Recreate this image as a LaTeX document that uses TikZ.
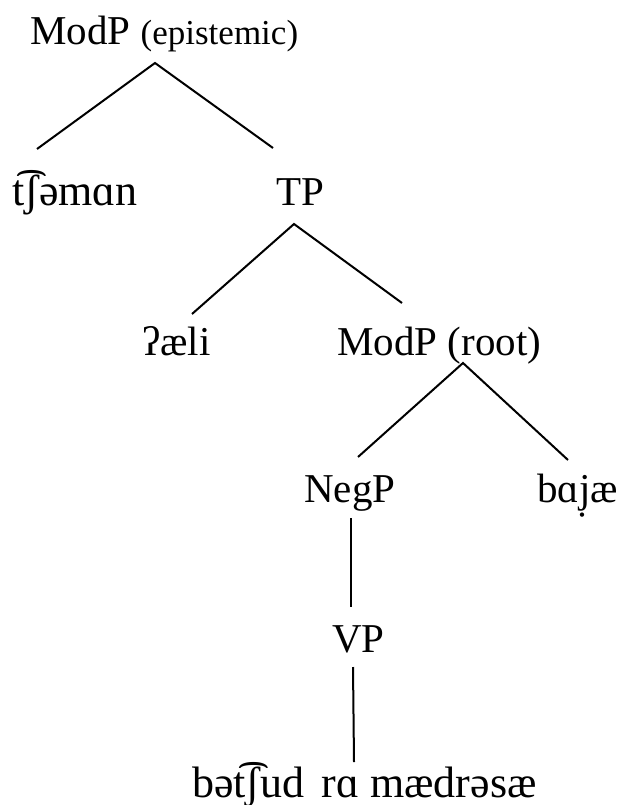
\documentclass[tikz,border=0pt]{standalone}
\usepackage{fontspec}
\setmainfont{Liberation Serif}
\begin{document}
\begin{tikzpicture}[x=1pt,y=-1pt,
  lbl/.style={inner sep=0pt, anchor=base west, font=\fontsize{41}{46}\selectfont},
  ipa/.style={lbl, font=\fontsize{44}{48}\selectfont},
  edge/.style={line width=2pt}]
\useasboundingbox (0,0) rectangle (619,805);
% labels
\node[lbl] (modp) at (30,45) {ModP {\fontsize{35}{40}\selectfont(epistemic)}};
\node[ipa] (tsh)  at (12,205) {t͡ʃəmɑn};
\node[lbl] (tp)   at (276,205) {TP};
\node[lbl] (ael)  at (142,355) {ʔæli};
\node[lbl] (modr) at (337,355) {ModP (root)};
\node[lbl] (negp) at (304,502) {NegP};
\node[lbl] (baj)  at (537,502) {bɑj̣æ};
\node[lbl] (vp)   at (332,652) {VP};
\node[ipa] (bot)  at (192,797) {bət͡ʃud\hspace{6pt} rɑ mædrəsæ};
% connector end points
\coordinate (modp-b) at (155,63);
\coordinate (tsh-t)  at (37,149);
\coordinate (tp-t)   at (273,148);
\coordinate (tp-b)   at (294,224);
\coordinate (ael-t)  at (192,314);
\coordinate (modr-t) at (402,303);
\coordinate (modr-b) at (463,363);
\coordinate (negp-t) at (358,457);
\coordinate (baj-t)  at (568,460);
\coordinate (negp-b) at (351,518);
\coordinate (vp-t)   at (351,607);
\coordinate (vp-b)   at (353,667);
\coordinate (bot-t)  at (354,762);
% connectors
\draw[edge] (tsh-t) -- (modp-b) -- (tp-t);
\draw[edge] (ael-t) -- (tp-b) -- (modr-t);
\draw[edge] (negp-t) -- (modr-b) -- (baj-t);
\draw[edge] (negp-b) -- (vp-t);
\draw[edge] (vp-b) -- (bot-t);
\end{tikzpicture}
\end{document}
